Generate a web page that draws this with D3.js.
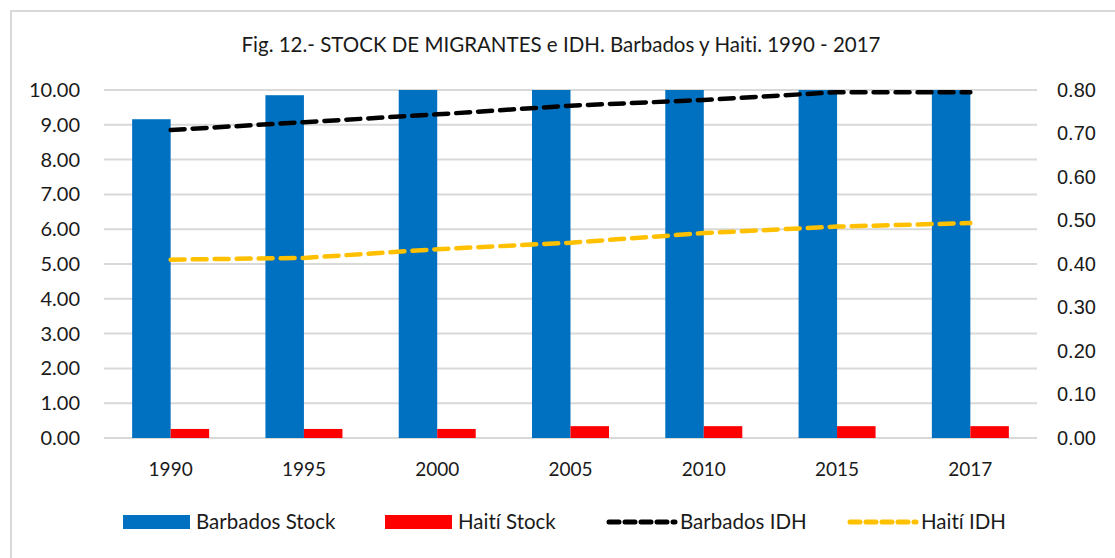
<!DOCTYPE html>
<html>
<head>
<meta charset="utf-8">
<script src="https://cdn.jsdelivr.net/npm/d3@7"></script>
<style>
  body { margin: 0; background: #fff; }
  svg { display: block; }
  text { font-variant-ligatures: none; }
  .grid line { stroke: #d9d9d9; stroke-width: 2; }
  .axis text { fill: #1a1a1a; }
</style>
</head>
<body>
<svg class="chart" width="1115" height="558"></svg>
<script>
"use strict";

var years = ['1990', '1995', '2000', '2005', '2010', '2015', '2017'];
// migrant stock (% of population); Barbados bars run off the top of the axis from 2000
var barbadosStock = [9.16, 9.85, 10.6, 11.2, 11.5, 11.9, 12.1];
var haitiStock = [0.26, 0.26, 0.26, 0.34, 0.34, 0.34, 0.34];
var barbadosIDH = [0.708, 0.726, 0.744, 0.764, 0.777, 0.795, 0.795];
var haitiIDH = [0.410, 0.414, 0.434, 0.449, 0.471, 0.486, 0.494];
var leftTicks = [0, 1, 2, 3, 4, 5, 6, 7, 8, 9, 10];
var rightTicks = [0, 0.1, 0.2, 0.3, 0.4, 0.5, 0.6, 0.7, 0.8];

var margin = {top: 90, right: 78, bottom: 120, left: 104};
var width = 1115 - margin.left - margin.right;
var height = 558 - margin.top - margin.bottom;

var svg = d3.select('.chart');

// outer border of the chart area
svg.append('rect')
  .attr('x', 11).attr('y', 11)
  .attr('width', 1115).attr('height', 558)
  .attr('fill', 'none')
  .attr('stroke', '#d9d9d9')
  .attr('stroke-width', 2);

svg.append('text')
  .attr('x', 561).attr('y', 52)
  .attr('text-anchor', 'middle')
  .style('font-family', 'Lato')
  .style('font-size', '20.5px')
  .style('fill', '#1a1a1a')
  .text('Fig. 12.- STOCK DE MIGRANTES e IDH. Barbados y Haiti. 1990 - 2017');

var g = svg.append('g').attr('transform', 'translate(' + margin.left + ',' + margin.top + ')');

var x = d3.scaleBand().domain(years).range([0, width]);
var xInner = d3.scaleBand().domain(['barbados', 'haiti']).range([-38.5, 38.5]);
var yLeft = d3.scaleLinear().domain([0, 10]).range([height, 0]).clamp(true);
var yRight = d3.scaleLinear().domain([0, 0.8]).range([height, 0]);

g.append('g').attr('class', 'grid')
  .selectAll('line').data(leftTicks).enter().append('line')
  .attr('x1', 0).attr('x2', width)
  .attr('y1', function (d) { return yLeft(d); })
  .attr('y2', function (d) { return yLeft(d); });

var leftAxis = g.append('g').attr('class', 'axis')
  .call(d3.axisLeft(yLeft).tickValues(leftTicks).tickFormat(d3.format('.2f')).tickSize(0).tickPadding(24));
leftAxis.select('.domain').remove();
leftAxis.selectAll('text').style('font-family', 'Lato').style('font-size', '20px');

var rightAxis = g.append('g').attr('class', 'axis')
  .attr('transform', 'translate(' + width + ',0)')
  .call(d3.axisRight(yRight).tickValues(rightTicks).tickFormat(d3.format('.2f')).tickSize(0).tickPadding(20));
rightAxis.select('.domain').remove();
rightAxis.selectAll('text').style('font-family', 'Liberation Sans').style('font-size', '20px');

var xAxis = g.append('g').attr('class', 'axis')
  .attr('transform', 'translate(0,' + height + ')')
  .call(d3.axisBottom(x).tickSize(0).tickPadding(25));
xAxis.select('.domain').remove();
xAxis.selectAll('text').style('font-family', 'Lato').style('font-size', '19px');

function barSeries(values, key, color) {
  g.append('g').selectAll('rect')
    .data(values).enter().append('rect')
    .attr('x', function (d, i) { return x(years[i]) + x.bandwidth() / 2 + xInner(key); })
    .attr('width', xInner.bandwidth())
    .attr('y', function (d) { return yLeft(d); })
    .attr('height', function (d) { return height - yLeft(d); })
    .attr('fill', color);
}
barSeries(barbadosStock, 'barbados', '#0070c0');
barSeries(haitiStock, 'haiti', '#ff0000');

function lineSeries(values, color) {
  var line = d3.line()
    .x(function (d, i) { return x(years[i]) + x.bandwidth() / 2; })
    .y(function (d) { return yRight(d); });
  g.append('path')
    .datum(values)
    .attr('d', line)
    .attr('fill', 'none')
    .attr('stroke', color)
    .attr('stroke-width', 4.5)
    .attr('stroke-dasharray', '14,8')
    .attr('stroke-linecap', 'round');
}
lineSeries(barbadosIDH, '#000000');
lineSeries(haitiIDH, '#ffc000');

// legend
var legend = [
  {name: 'Barbados Stock', color: '#0070c0', type: 'bar', x: 123},
  {name: 'Haití Stock', color: '#ff0000', type: 'bar', x: 385},
  {name: 'Barbados IDH', color: '#000000', type: 'line', x: 607},
  {name: 'Haití IDH', color: '#ffc000', type: 'line', x: 848}
];
var ly = 522;
var items = svg.append('g').selectAll('g').data(legend).enter().append('g')
  .attr('transform', function (d) { return 'translate(' + d.x + ',' + ly + ')'; });
items.filter(function (d) { return d.type === 'bar'; })
  .append('rect')
  .attr('x', 0).attr('y', -7).attr('width', 67).attr('height', 14)
  .attr('fill', function (d) { return d.color; });
items.filter(function (d) { return d.type === 'line'; })
  .append('line')
  .attr('x1', 2).attr('x2', 68).attr('y1', 0).attr('y2', 0)
  .attr('stroke', function (d) { return d.color; })
  .attr('stroke-width', 5)
  .attr('stroke-dasharray', '10,6')
  .attr('stroke-linecap', 'round');
items.append('text')
  .attr('x', 73)
  .attr('dy', '0.35em')
  .style('font-family', 'Lato')
  .style('font-size', '20.5px')
  .style('fill', '#1a1a1a')
  .text(function (d) { return d.name; });
</script>
</body>
</html>
